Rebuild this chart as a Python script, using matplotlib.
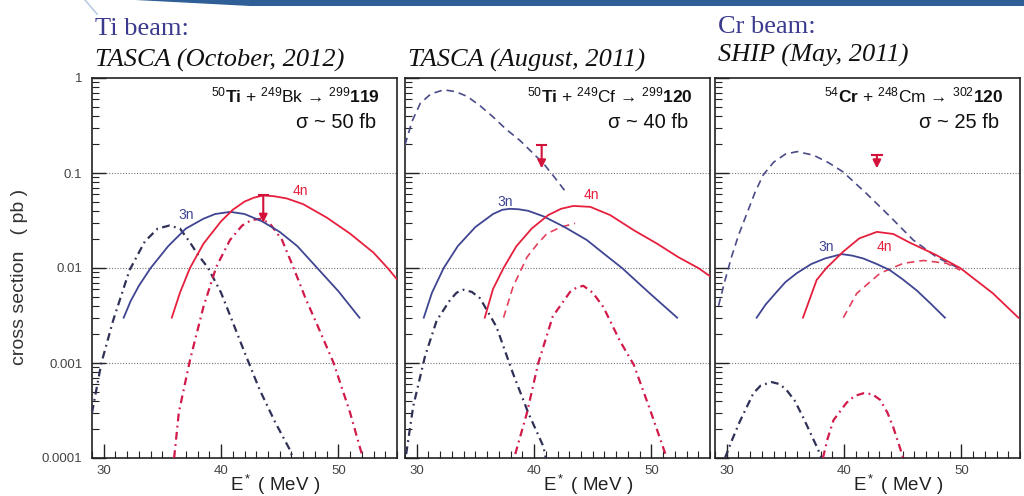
import matplotlib
matplotlib.use("Agg")
import matplotlib.pyplot as plt
from matplotlib.patches import Polygon
from matplotlib.lines import Line2D
from matplotlib.ticker import FixedLocator, MultipleLocator, LogLocator, NullFormatter

plt.rcParams['font.family'] = ['Liberation Sans', 'DejaVu Sans']
plt.rcParams['mathtext.fontset'] = 'custom'
plt.rcParams['mathtext.rm'] = 'Liberation Sans'
plt.rcParams['mathtext.it'] = 'Liberation Sans:italic'
plt.rcParams['mathtext.bf'] = 'Liberation Sans:bold'

# ---- data (E* in MeV, cross section in pb) ----
# panel 1: 50Ti + 249Bk
p1_3n_x = [31.7, 32.3, 33.0, 34.0, 35.5, 37.0, 38.5, 39.5, 40.8, 42.0, 43.5, 45.0, 46.5, 48.2, 50.0, 51.8]
p1_3n_y = [0.003, 0.0045, 0.0065, 0.010, 0.017, 0.026, 0.033, 0.037, 0.039, 0.037, 0.031, 0.024, 0.017, 0.010, 0.0057, 0.003]
p1_4n_x = [35.8, 36.5, 37.35, 38.5, 40.0, 41.0, 42.0, 42.8, 43.6, 44.5, 45.6, 47.0, 49.0, 51.0, 53.0, 54.2, 55.0]
p1_4n_y = [0.003, 0.0055, 0.010, 0.018, 0.031, 0.041, 0.050, 0.055, 0.058, 0.057, 0.054, 0.047, 0.034, 0.023, 0.0145, 0.010, 0.0076]
p1_dd3_x = [29.0, 29.8, 30.8, 32.2, 33.5, 34.6, 35.6, 36.5, 37.3, 38.0, 38.9, 40.0, 40.8, 42.0, 43.3, 44.6, 45.9, 46.1]
p1_dd3_y = [0.0003, 0.001, 0.0028, 0.0095, 0.019, 0.026, 0.028, 0.026, 0.019, 0.014, 0.010, 0.0055, 0.0031, 0.0013, 0.00052, 0.00024, 0.00012, 0.0001]
p1_dd4_x = [36.0, 36.4, 37.35, 38.5, 39.6, 40.76, 41.8, 42.6, 43.4, 44.2, 45.2, 46.2, 47.2, 48.15, 49.6, 51.0, 52.0]
p1_dd4_y = [0.0001, 0.0003, 0.00107, 0.0039, 0.0103, 0.0197, 0.028, 0.032, 0.033, 0.029, 0.0197, 0.0099, 0.0048, 0.0026, 0.001, 0.0003, 0.00011]

# panel 2: 50Ti + 249Cf
p2_dash3_x = [29.0, 29.6, 30.3, 31.2, 32.3, 33.3, 34.3, 35.4, 36.5, 37.6, 38.8, 40.8, 41.6, 42.8]
p2_dash3_y = [0.197, 0.35, 0.54, 0.68, 0.75, 0.72, 0.64, 0.51, 0.39, 0.29, 0.22, 0.126, 0.095, 0.061]
p2_3n_x = [30.6, 31.3, 32.3, 33.5, 35.0, 36.5, 37.3, 37.95, 38.7, 39.5, 40.8, 42.6, 44.5, 46.0, 47.5, 49.8, 52.2]
p2_3n_y = [0.003, 0.0055, 0.010, 0.017, 0.027, 0.037, 0.041, 0.042, 0.0415, 0.040, 0.035, 0.027, 0.0197, 0.014, 0.010, 0.0055, 0.003]
p2_4n_x = [35.8, 36.5, 37.4, 38.5, 39.8, 41.2, 42.3, 43.35, 44.8, 46.5, 48.5, 50.5, 52.3, 54.0, 55.0]
p2_4n_y = [0.003, 0.006, 0.010, 0.017, 0.026, 0.036, 0.042, 0.045, 0.044, 0.036, 0.025, 0.018, 0.013, 0.010, 0.0082]
p2_dash4_x = [37.4, 38.2, 39.4, 40.3, 41.1, 42.3, 43.5]
p2_dash4_y = [0.003, 0.0063, 0.013, 0.018, 0.023, 0.027, 0.0295]
p2_dd3_x = [29.1, 29.7, 30.7, 31.7, 32.84, 33.4, 33.97, 34.7, 35.4, 36.8, 38.2, 39.5, 40.8, 41.0]
p2_dd3_y = [0.00011, 0.00035, 0.00117, 0.0028, 0.0046, 0.0055, 0.0059, 0.0056, 0.0048, 0.0024, 0.00078, 0.0003, 0.000132, 0.0001]
p2_dd4_x = [38.4, 39.4, 40.36, 41.6, 43.07, 43.6, 44.2, 45.0, 45.9, 47.33, 48.5, 49.9, 51.2]
p2_dd4_y = [0.00011, 0.0003, 0.001, 0.0031, 0.0056, 0.0062, 0.0065, 0.0055, 0.0039, 0.0017, 0.00096, 0.00032, 0.00011]

# panel 3: 54Cr + 248Cm
p3_dash3_x = [29.3, 29.8, 30.4, 31.0, 31.7, 32.4, 33.1, 34.0, 35.0, 36.0, 37.4, 38.7, 39.9, 41.9, 43.9, 45.9, 47.9, 49.74]
p3_dash3_y = [0.004, 0.007, 0.013, 0.022, 0.037, 0.062, 0.095, 0.13, 0.158, 0.168, 0.154, 0.128, 0.103, 0.061, 0.035, 0.0197, 0.013, 0.010]
p3_3n_x = [32.55, 33.3, 34.2, 35.0, 35.96, 37.2, 38.38, 39.8, 40.7, 41.64, 42.8, 43.9, 45.0, 46.2, 47.4, 48.6]
p3_3n_y = [0.003, 0.0041, 0.0055, 0.0071, 0.0088, 0.011, 0.0126, 0.014, 0.0135, 0.0126, 0.011, 0.0095, 0.0076, 0.0058, 0.0042, 0.003]
p3_4n_x = [36.5, 37.67, 38.5, 39.94, 41.3, 42.8, 44.2, 45.6, 47.8, 49.9, 52.7, 54.86]
p3_4n_y = [0.003, 0.0075, 0.010, 0.0149, 0.0205, 0.024, 0.0228, 0.0185, 0.0138, 0.010, 0.0054, 0.003]
p3_dash4_x = [39.94, 41.08, 43.07, 45.05, 46.76, 48.75, 49.9]
p3_dash4_y = [0.003, 0.0054, 0.0088, 0.0112, 0.012, 0.0112, 0.0095]
p3_dd3_x = [29.85, 30.5, 31.1, 32.27, 32.9, 33.83, 34.5, 35.1, 35.8, 36.5, 37.67, 38.1]
p3_dd3_y = [0.0001, 0.00016, 0.00024, 0.00048, 0.00058, 0.00063, 0.0006, 0.00052, 0.0004, 0.00027, 0.000132, 0.0001]
p3_dd4_x = [38.2, 38.6, 39.1, 40.2, 40.9, 41.64, 42.4, 43.07, 43.7, 44.2, 45.05]
p3_dd4_y = [0.0001, 0.00016, 0.00025, 0.00038, 0.00045, 0.00048, 0.00047, 0.00041, 0.0003, 0.00021, 0.0001]

# measured upper limits (arrows): E*, cap value, tip value
arrow_x = [43.6, 40.65, 42.8]
arrow_top = [0.058, 0.197, 0.155]
arrow_tip = [0.030, 0.112, 0.112]

reactions = [r"$^{50}$$\mathbf{Ti}$ + $^{249}$Bk → $^{299}$$\mathbf{119}$",
             r"$^{50}$$\mathbf{Ti}$ + $^{249}$Cf → $^{299}$$\mathbf{120}$",
             r"$^{54}$$\mathbf{Cr}$ + $^{248}$Cm → $^{302}$$\mathbf{120}$"]
sigmas = ["σ ~ 50 fb", "σ ~ 40 fb", "σ ~ 25 fb"]
label_3n = [(37.0, 0.036), (37.5, 0.050), (38.5, 0.0166)]
label_4n = [(46.8, 0.065), (44.9, 0.059), (43.4, 0.0165)]

ytick_vals = [1e-4, 1e-3, 1e-2, 1e-1, 1]
ytick_text = ["0.0001", "0.001", "0.01", "0.1", "1"]

# ---- styles ----
BLUE = "#3f4592"
RED = "#e61f3d"
DARK_DD = "#2f3156"
RED_DD = "#d21a4a"
BLUE_DASH = "#4a4c88"
RED_DASH = "#e2405c"
ARROW = "#d3123c"
DD = (0, (3.5, 2.0, 0.8, 2.0))
DASH = (0, (4.5, 3.0))

W, H = 1024, 496
fig = plt.figure(figsize=(W / 100, H / 100), dpi=100)

# slide decoration: blue bar at the top
fig.patches.append(Polygon([(135 / W, 1.0), (250 / W, 1 - 6 / H), (1.0, 1 - 6 / H), (1.0, 1.0)],
                           closed=True, transform=fig.transFigure, facecolor="#2f5f96",
                           edgecolor="none"))
fig.lines.append(Line2D([85 / W, 97 / W], [1.0, 1 - 14 / H], transform=fig.transFigure,
                        color="#b8cce2", lw=1.2))

panel_left = [92, 405, 715]
ax_w, ax_top, ax_bot = 305, 78, 458

panels = [
    [(p1_dd3_x, p1_dd3_y, DARK_DD, DD, 1.6), (p1_dd4_x, p1_dd4_y, RED_DD, DD, 1.6),
     (p1_3n_x, p1_3n_y, BLUE, '-', 1.3), (p1_4n_x, p1_4n_y, RED, '-', 1.3)],
    [(p2_dash3_x, p2_dash3_y, BLUE_DASH, DASH, 1.2), (p2_dash4_x, p2_dash4_y, RED_DASH, DASH, 1.2),
     (p2_dd3_x, p2_dd3_y, DARK_DD, DD, 1.6), (p2_dd4_x, p2_dd4_y, RED_DD, DD, 1.6),
     (p2_3n_x, p2_3n_y, BLUE, '-', 1.3), (p2_4n_x, p2_4n_y, RED, '-', 1.3)],
    [(p3_dash3_x, p3_dash3_y, BLUE_DASH, DASH, 1.2), (p3_dash4_x, p3_dash4_y, RED_DASH, DASH, 1.2),
     (p3_dd3_x, p3_dd3_y, DARK_DD, DD, 1.6), (p3_dd4_x, p3_dd4_y, RED_DD, DD, 1.6),
     (p3_3n_x, p3_3n_y, BLUE, '-', 1.3), (p3_4n_x, p3_4n_y, RED, '-', 1.3)],
]

for i, curves in enumerate(panels):
    ax = fig.add_axes([panel_left[i] / W, 1 - ax_bot / H, ax_w / W, (ax_bot - ax_top) / H])
    ax.set_yscale('log')
    ax.set_xlim(29, 55)
    ax.set_ylim(1e-4, 1)

    for lvl in [0.1, 0.01, 0.001]:
        ax.axhline(lvl, color="#777777", lw=0.8, ls=(0, (1, 1.5)), zorder=1)

    for x, y, c, ls, lw in curves:
        ax.plot(x, y, color=c, ls=ls, lw=lw, zorder=3)

    # upper-limit arrow with cap
    ax.annotate("", xy=(arrow_x[i], arrow_tip[i]), xytext=(arrow_x[i], arrow_top[i]),
                arrowprops=dict(arrowstyle='-|>', color=ARROW, lw=1.5, mutation_scale=12,
                                shrinkA=0, shrinkB=0), zorder=4)
    ax.plot([arrow_x[i] - 0.4, arrow_x[i] + 0.4], [arrow_top[i]] * 2, color=ARROW, lw=1.5, zorder=4)

    ax.text(label_3n[i][0], label_3n[i][1], "3n", color=BLUE, fontsize=10, ha='center', va='center')
    ax.text(label_4n[i][0], label_4n[i][1], "4n", color=RED, fontsize=10, ha='center', va='center')

    ax.text(0.945, 0.937, reactions[i], transform=ax.transAxes, ha='right', va='baseline',
            fontsize=12.5, color="#111111")
    ax.text(0.93, 0.868, sigmas[i], transform=ax.transAxes, ha='right', va='baseline',
            fontsize=14.5, color="#111111")

    ax.xaxis.set_major_locator(FixedLocator([30, 40, 50]))
    ax.xaxis.set_minor_locator(MultipleLocator(1))
    ax.yaxis.set_major_locator(FixedLocator(ytick_vals))
    ax.yaxis.set_minor_locator(LogLocator(base=10, subs=range(2, 10)))
    ax.yaxis.set_minor_formatter(NullFormatter())
    ax.tick_params(which='both', direction='in', top=False, right=False, colors="#222222",
                   labelcolor="#444444", labelsize=9.5)
    ax.tick_params(which='major', length=10, width=1.0)
    ax.tick_params(which='minor', length=5, width=0.8)
    ax.tick_params(axis='y', pad=7)
    ax.tick_params(axis='x', pad=5)
    if i == 0:
        ax.set_yticklabels(ytick_text)
    else:
        ax.set_yticklabels([])
    for sp in ax.spines.values():
        sp.set_color("#222222")
        sp.set_linewidth(1.2)

    fig.text((panel_left[i] + 183) / W, 1 - 485 / H, r"E$^*$ ( MeV )", ha='center', va='center',
             fontsize=13.5, color="#222222")

fig.text(20 / W, 1 - 277 / H, "cross section   ( pb )", rotation=90, ha='center', va='center',
         fontsize=14, color="#333333")

serif = ['Liberation Serif', 'DejaVu Serif']
fig.text(95 / W, 1 - 35 / H, "Ti beam:", family=serif, fontsize=19, color="#3b3a8e", va='baseline')
fig.text(95 / W, 1 - 67 / H, "TASCA (October, 2012)", family=serif, style='italic', fontsize=19,
         color="#111111", va='baseline')
fig.text(408 / W, 1 - 67 / H, "TASCA (August, 2011)", family=serif, style='italic', fontsize=19,
         color="#111111", va='baseline')
fig.text(718 / W, 1 - 33 / H, "Cr beam:", family=serif, fontsize=19, color="#3b3a8e", va='baseline')
fig.text(718 / W, 1 - 62 / H, "SHIP (May, 2011)", family=serif, style='italic', fontsize=19,
         color="#111111", va='baseline')

fig.savefig("out.png", dpi=100)
